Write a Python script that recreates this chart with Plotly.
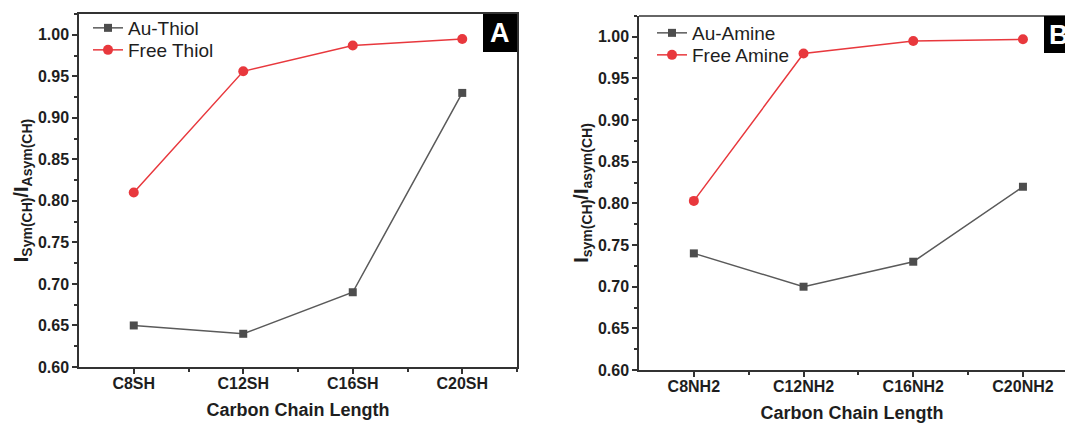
import plotly.graph_objects as go

# ---- data ----
cats_a = ["C8SH", "C12SH", "C16SH", "C20SH"]
au_thiol = [0.65, 0.64, 0.69, 0.93]
free_thiol = [0.81, 0.956, 0.987, 0.995]

cats_b = ["C8NH2", "C12NH2", "C16NH2", "C20NH2"]
au_amine = [0.74, 0.70, 0.73, 0.82]
free_amine = [0.803, 0.98, 0.995, 0.997]

yticks = [0.60, 0.65, 0.70, 0.75, 0.80, 0.85, 0.90, 0.95, 1.00]

GRAY = "#4d4d4d"
GRAYLINE = "#5a5a5a"
RED = "#e8383d"
AXC = "#333333"
TXT = "#1e1e1e"
FONT = "Liberation Sans"
W, H = 1065, 425

fig = go.Figure()

xa = list(range(len(cats_a)))
xb = list(range(len(cats_b)))

fig.add_trace(go.Scatter(x=xa, y=au_thiol, name="Au-Thiol", mode="lines+markers",
                         line=dict(color=GRAYLINE, width=1.5),
                         marker=dict(symbol="square", size=8, color=GRAY),
                         xaxis="x", yaxis="y", legend="legend"))
fig.add_trace(go.Scatter(x=xa, y=free_thiol, name="Free Thiol", mode="lines+markers",
                         line=dict(color=RED, width=1.5),
                         marker=dict(symbol="circle", size=10, color=RED),
                         xaxis="x", yaxis="y", legend="legend2"))
fig.add_trace(go.Scatter(x=xb, y=au_amine, name="Au-Amine", mode="lines+markers",
                         line=dict(color=GRAYLINE, width=1.5),
                         marker=dict(symbol="square", size=8, color=GRAY),
                         xaxis="x2", yaxis="y2", legend="legend3"))
fig.add_trace(go.Scatter(x=xb, y=free_amine, name="Free Amine", mode="lines+markers",
                         line=dict(color=RED, width=1.5),
                         marker=dict(symbol="circle", size=10, color=RED),
                         xaxis="x2", yaxis="y2", legend="legend4"))

# pixel geometry
A_L, A_R, A_T, A_B = 79, 517, 14, 367
B_L, B_R, B_T, B_B = 639, 1065, 16, 370
# panel B is cropped on the right: full panel would end at ~1078
b_cat_px = 109.7
b_xmax = -0.5 + (B_R - B_L) / b_cat_px

def xaxis_common(cats, rng, dom, mirror):
    return dict(domain=dom, range=rng, tickmode="array", automargin=False,
                tickvals=list(range(len(cats))), ticktext=cats,
                ticks="outside", ticklen=5, tickwidth=1.5, tickcolor=AXC,
                showline=True, linecolor=AXC, linewidth=1.5, mirror=mirror,
                showgrid=False, zeroline=False, ticklabelstandoff=-4,
                tickfont=dict(family=FONT, size=16, color=TXT, weight="bold"),
                minor=dict(tickvals=[0.5, 1.5, 2.5, 3.5], ticks="outside", ticklen=3,
                           tickwidth=1.5, tickcolor=AXC, showgrid=False),
                title=dict(text="<b>Carbon Chain Length</b>",
                           font=dict(family=FONT, size=18, color=TXT), standoff=12),
                fixedrange=True)

def yaxis_common(dom, anchor, title, mirror):
    return dict(domain=dom, range=[0.6, 1.025], anchor=anchor, automargin=False,
                tickmode="array", tickvals=yticks, tickformat=".2f",
                ticks="outside", ticklen=5, tickwidth=1.5, tickcolor=AXC,
                showline=True, linecolor=AXC, linewidth=1.5, mirror=mirror,
                showgrid=False, zeroline=False,
                tickfont=dict(family=FONT, size=16, color=TXT, weight="bold"),
                minor=dict(dtick=0.025, tick0=0.6, ticks="outside", ticklen=3,
                           tickwidth=1.5, tickcolor=AXC, showgrid=False),
                title=dict(text=title, font=dict(family=FONT, size=20, color=TXT),
                           standoff=4),
                fixedrange=True)

def leg(xpx, ypx):
    return dict(x=xpx / W, y=1 - ypx / H, xanchor="left", yanchor="middle",
                bgcolor="rgba(0,0,0,0)", font=dict(family=FONT, size=19, color=TXT),
                tracegroupgap=0, itemwidth=30)

fig.update_layout(
    width=W, height=H,
    margin=dict(l=0, r=0, t=0, b=0, autoexpand=False),
    paper_bgcolor="white", plot_bgcolor="white",
    font=dict(family=FONT),
    xaxis=dict(**xaxis_common(cats_a, [-0.5, 3.5], [A_L / W, A_R / W], True), anchor="y"),
    yaxis=yaxis_common([1 - A_B / H, 1 - A_T / H], "x",
                       "<b>I<sub>Sym(CH)</sub>/I<sub>Asym(CH)</sub></b>", True),
    xaxis2=dict(**xaxis_common(cats_b, [-0.5, b_xmax], [B_L / W, B_R / W], False), anchor="y2"),
    yaxis2=yaxis_common([1 - B_B / H, 1 - B_T / H], "x2",
                        "<b>I<sub>sym(CH)</sub>/I<sub>asym(CH)</sub></b>", False),
    legend=leg(A_L + 9, 28),
    legend2=leg(A_L + 9, 50),
    legend3=leg(B_L + 13, 33),
    legend4=leg(B_L + 13, 55),
    showlegend=True,
)

# top border line for panel B (cropped panel, no right border)
fig.add_shape(type="line", xref="x2 domain", yref="y2 domain", x0=0, x1=1, y0=1, y1=1,
              line=dict(color=AXC, width=1.5))

# panel letter boxes
fig.add_shape(type="rect", xref="paper", yref="paper",
              x0=483 / W, x1=A_R / W, y0=1 - 52 / H, y1=1 - A_T / H,
              fillcolor="black", line=dict(width=0), layer="above")
fig.add_annotation(text="<b>A</b>", xref="paper", yref="paper", x=500 / W, y=1 - 33 / H,
                   xanchor="center", yanchor="middle", showarrow=False,
                   font=dict(family=FONT, size=27, color="white"))
fig.add_shape(type="rect", xref="paper", yref="paper",
              x0=1044 / W, x1=1.0, y0=1 - 53 / H, y1=1 - B_T / H,
              fillcolor="black", line=dict(width=0), layer="above")
fig.add_annotation(text="<b>B</b>", xref="paper", yref="paper", x=1047 / W, y=1 - 35 / H,
                   xanchor="left", yanchor="middle", showarrow=False,
                   font=dict(family=FONT, size=27, color="white"))

fig.write_html("out.html", config={"displayModeBar": False})
